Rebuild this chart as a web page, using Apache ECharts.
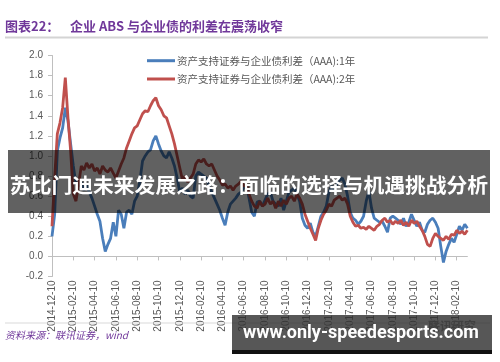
<!DOCTYPE html>
<html>
<head>
<meta charset="utf-8">
<script src="https://cdn.jsdelivr.net/npm/echarts@6/dist/echarts.min.js"></script>
<style>
html,body{margin:0;padding:0;background:#fff;}
#chart{width:500px;height:362px;}
</style>
</head>
<body>
<div id="chart"></div>
<script>
// ---- data (roughly weekly: 4 points per month) ----
const seriesNames = ['资产支持证券与企业债利差（AAA):1年', '资产支持证券与企业债利差（AAA):2年'];

const spread1Y = [
0.20,0.42,1.05,1.18,1.28,1.48,1.35,1.12,0.90,0.72,
0.70,0.74,0.66,0.72,0.64,0.58,0.50,0.42,0.35,0.18,
0.05,0.12,0.18,0.34,0.20,0.46,0.42,0.28,0.44,0.46,
0.42,0.55,0.60,0.75,0.95,1.00,1.04,1.06,1.15,1.20,
1.12,1.05,1.00,0.98,1.04,0.98,0.90,0.78,0.64,0.68,
0.62,0.66,0.60,0.58,0.80,0.84,0.82,0.80,0.78,0.70,
0.64,0.58,0.52,0.46,0.38,0.31,0.44,0.52,0.55,0.58,
0.62,0.64,0.68,0.71,0.58,0.44,0.40,0.54,0.55,0.50,
0.56,0.62,0.64,0.55,0.52,0.50,0.58,0.46,0.55,0.64,
0.66,0.68,0.62,0.55,0.38,0.31,0.28,0.33,0.24,0.20,
0.30,0.40,0.44,0.50,0.64,0.70,0.66,0.72,0.76,0.78,
0.72,0.60,0.44,0.38,0.36,0.32,0.35,0.40,0.55,0.65,
0.48,0.38,0.36,0.34,0.35,0.30,0.24,0.38,0.40,0.38,
0.36,0.32,0.38,0.30,0.34,0.42,0.36,0.30,0.34,0.26,
0.24,0.32,0.36,0.38,0.34,0.28,0.10,-0.06,0.05,0.12,
0.18,0.14,0.22,0.30,0.26,0.32,0.28
];

const spread2Y = [
0.30,0.78,1.22,1.33,1.48,1.78,1.38,1.05,0.62,0.55,
0.72,0.90,0.86,0.93,0.88,0.92,0.85,0.88,0.82,0.90,
0.86,0.84,0.88,0.83,0.78,0.85,0.92,0.98,1.08,1.15,
1.22,1.28,1.30,1.36,1.42,1.45,1.44,1.50,1.55,1.58,
1.50,1.46,1.40,1.38,1.30,1.22,1.12,1.00,0.88,0.76,
0.80,0.74,0.78,0.82,0.92,0.96,0.94,0.97,0.92,0.90,
0.92,0.86,0.80,0.76,0.71,0.72,0.68,0.70,0.66,0.70,
0.72,0.75,0.70,0.72,0.62,0.55,0.50,0.48,0.55,0.50,
0.52,0.58,0.52,0.55,0.48,0.55,0.50,0.56,0.52,0.58,
0.60,0.55,0.62,0.58,0.52,0.42,0.35,0.28,0.22,0.16,
0.28,0.36,0.42,0.46,0.52,0.50,0.56,0.58,0.60,0.56,
0.58,0.52,0.40,0.34,0.30,0.31,0.28,0.29,0.27,0.30,
0.28,0.26,0.30,0.32,0.36,0.38,0.34,0.36,0.32,0.35,
0.33,0.36,0.31,0.34,0.30,0.36,0.33,0.35,0.30,0.26,
0.20,0.12,0.10,0.18,0.23,0.20,0.18,0.16,0.20,0.17,
0.22,0.21,0.26,0.23,0.25,0.22,0.26
];

const tickLabels = ['2014-12-10','2015-02-10','2015-04-10','2015-06-10','2015-08-10','2015-10-10',
'2015-12-10','2016-02-10','2016-04-10','2016-06-10','2016-08-10','2016-10-10','2016-12-10',
'2017-02-10','2017-04-10','2017-06-10','2017-08-10','2017-10-10','2017-12-10','2018-02-10'];

// categories: 4 dates per month starting 2014-12-10
const categories = [];
(function(){
  const pad = n => (n < 10 ? '0' : '') + n;
  let y = 2014, m = 12;
  while (categories.length < spread1Y.length) {
    ['10','17','24'].forEach(d => categories.push(y + '-' + pad(m) + '-' + d));
    let ny = m === 12 ? y + 1 : y, nm = m === 12 ? 1 : m + 1;
    categories.push(ny + '-' + pad(nm) + '-02');
    y = ny; m = nm;
  }
  categories.length = spread1Y.length;
})();

const chart = echarts.init(document.getElementById('chart'), null, {renderer: 'canvas'});
const gray = '#595959';
const purple = '#70389a';
const cjk = '"Noto Sans CJK SC", "Liberation Sans", sans-serif';

chart.setOption({
  animation: false,
  backgroundColor: '#ffffff',
  grid: {left: 52, right: 32.6, top: 55.5, bottom: 85.5},
  legend: {
    orient: 'vertical', left: 142, top: 48.7,
    icon: 'rect', itemWidth: 28, itemHeight: 3, itemGap: 4.3,
    textStyle: {color: gray, fontSize: 10.5, fontFamily: cjk, lineHeight: 14, padding: [0,0,0,-3]},
    data: seriesNames
  },
  xAxis: {
    type: 'category', boundaryGap: false, data: categories,
    axisLine: {onZero: true, lineStyle: {color: '#bfbfbf', width: 1}},
    axisTick: {interval: 7, length: 4, lineStyle: {color: '#bfbfbf'}},
    axisLabel: {
      interval: 7, rotate: 90, fontSize: 10, color: gray, margin: 4,
      fontFamily: '"Liberation Sans", sans-serif',
      formatter: (v, i) => tickLabels[Math.round(i / 8)] || v
    }
  },
  yAxis: {
    type: 'value', min: -0.2, max: 2.0, interval: 0.2,
    axisLine: {show: true, lineStyle: {color: '#bfbfbf'}},
    axisTick: {show: true, length: 4, lineStyle: {color: '#bfbfbf'}},
    splitLine: {show: false},
    axisLabel: {
      fontSize: 10, color: gray, margin: 9, fontFamily: '"Liberation Sans", sans-serif',
      formatter: v => (Math.abs(v) < 1e-9 ? 0 : v).toFixed(1)
    }
  },
  series: [
    {name: seriesNames[0], type: 'line', data: spread1Y, symbol: 'none',
     lineStyle: {color: '#4a7ebb', width: 2.8}, itemStyle: {color: '#4a7ebb'}},
    {name: seriesNames[1], type: 'line', data: spread2Y, symbol: 'none',
     lineStyle: {color: '#c0504d', width: 2.8}, itemStyle: {color: '#c0504d'}}
  ],
  graphic: [
    {type: 'text', left: 5, top: 20, z: 10,
     style: {text: '图表22：', fill: purple, font: 'bold 13px ' + cjk}},
    {type: 'text', left: 70, top: 20, z: 10,
     style: {text: '企业 ABS 与企业债的利差在震荡收窄', fill: purple, font: 'bold 13px ' + cjk}},
    {type: 'rect', shape: {x: 5, y: 36.5, width: 483, height: 2}, style: {fill: '#d4d4d4'}, z: 10},
    {type: 'rect', shape: {x: 5, y: 322.5, width: 485, height: 1}, style: {fill: '#d9d9d9'}, z: 10},
    {type: 'text', left: 428, top: 320, z: 10,
     style: {text: '联讯研究', fill: '#8c8c8c', font: 'bold 12px ' + cjk}},
    {type: 'text', left: 5, top: 330, z: 10,
     style: {text: '资料来源：联讯证券，wind', fill: purple, font: 'italic 10px ' + cjk}},
    // overlay banner
    {type: 'rect', shape: {x: 8, y: 150, width: 482, height: 63}, style: {fill: 'rgba(0,0,0,0.62)'}, z: 100},
    {type: 'text', z: 101, x: 249, y: 185,
     style: {text: '苏比门迪未来发展之路：面临的选择与机遇挑战分析', fill: '#ffffff',
             font: 'bold 20.8px ' + cjk, align: 'center', verticalAlign: 'middle'}},
    // watermark box
    {type: 'rect', shape: {x: 232, y: 315, width: 260, height: 36}, style: {fill: 'rgba(45,45,45,0.8)'}, z: 100},
    {type: 'rect', shape: {x: 232, y: 350, width: 260, height: 4}, style: {fill: '#111111'}, z: 100},
    {type: 'text', z: 101, x: 361, y: 333,
     style: {text: 'www.only-speedesports.com', fill: '#ffffff',
             font: 'bold 18px Roboto, "Liberation Sans", sans-serif', align: 'center', verticalAlign: 'middle'}}
  ]
});
</script>
</body>
</html>
